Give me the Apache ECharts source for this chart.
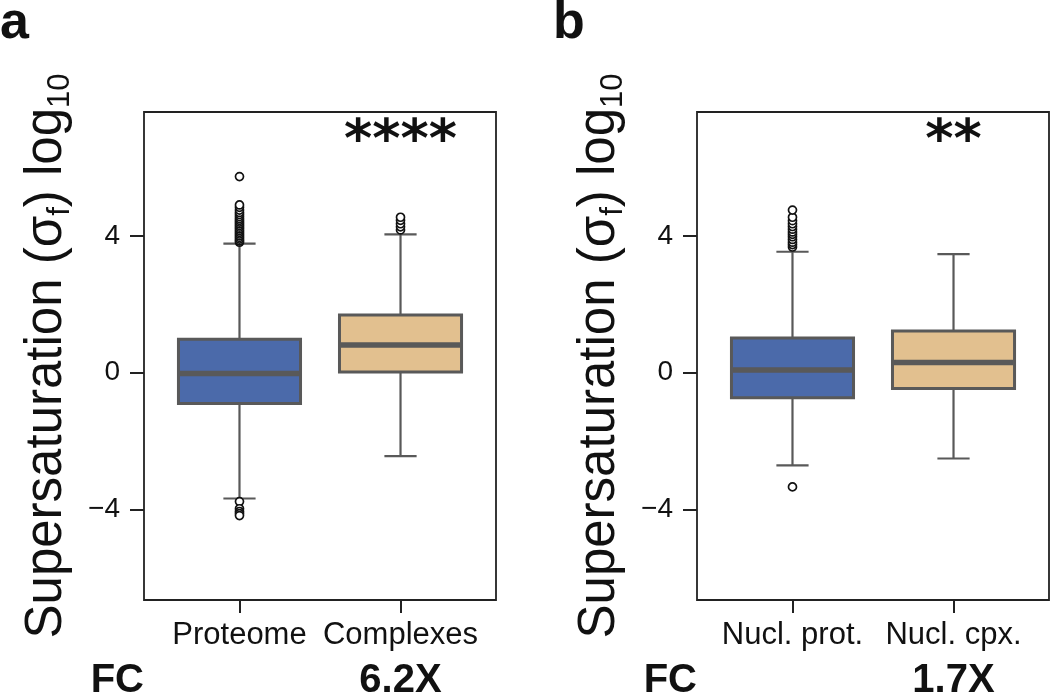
<!DOCTYPE html>
<html><head><meta charset="utf-8">
<script src="https://cdn.jsdelivr.net/npm/echarts@6/dist/echarts.min.js"></script>
<style>html,body{margin:0;padding:0;background:#fff}#c{width:1050px;height:697px}</style>
</head><body><div id="c"></div>
<script>
// ---- data ----
const panelLabels = ['a', 'b'];
const categoriesA = ['Proteome', 'Complexes'];
const categoriesB = ['Nucl. prot.', 'Nucl. cpx.'];
// each box: [lower whisker, Q1, median, Q3, upper whisker]
const boxesA = [[-3.68, -0.90, -0.02, 0.98, 3.78], [-2.44, 0.02, 0.81, 1.69, 4.05]];
const boxesB = [[-2.71, -0.73, 0.08, 1.02, 3.54], [-2.51, -0.46, 0.30, 1.22, 3.47]];
const outliersA = [
  [3.82, 3.86, 3.91, 3.96, 4.01, 4.06, 4.11, 4.16, 4.21, 4.26, 4.31, 4.36, 4.41, 4.46, 4.51, 4.57, 4.63, 4.69, 4.76, 4.84, 4.91, 5.74, -3.77, -3.98, -4.06, -4.12, -4.18],
  [4.18, 4.27, 4.36, 4.46, 4.55]
];
const outliersB = [
  [3.68, 3.75, 3.82, 3.90, 3.98, 4.05, 4.12, 4.20, 4.28, 4.36, 4.45, 4.55, 4.76, -3.34],
  []
];
const significance = ['****', '**'];
const foldChanges = ['6.2X', '1.7X'];
const yTicks = [-4, 0, 4];
const xTicks = [0, 1];

// ---- styling ----
const FONT = "'Liberation Sans', Arial, Helvetica, sans-serif";
const fills = ['#4b6aaa', '#e2c08f'];
const edge = '#595959';
const frame = '#222';
const grids = [
  { left: 144, top: 112, width: 352, height: 488 },
  { left: 697, top: 112, width: 352, height: 488 }
];
const Y_MIN = -6.65, Y_MAX = 7.63, X_MIN = -0.593, X_MAX = 1.593;
const BOX_HALF = 0.379, CAP_HALF = 0.1;

const panels = [
  { cats: categoriesA, boxes: boxesA, outliers: outliersA },
  { cats: categoriesB, boxes: boxesB, outliers: outliersB }
];

function renderBox(params, api) {
  const x = api.value(0);
  const lo = api.value(1), q1 = api.value(2), med = api.value(3), q3 = api.value(4), hi = api.value(5);
  const tl = api.coord([x - BOX_HALF, q3]);
  const br = api.coord([x + BOX_HALF, q1]);
  const mL = api.coord([x - BOX_HALF, med]);
  const mR = api.coord([x + BOX_HALF, med]);
  const pLo = api.coord([x, lo]);
  const pHi = api.coord([x, hi]);
  const cL = api.coord([x - CAP_HALF, lo])[0];
  const cR = api.coord([x + CAP_HALF, lo])[0];
  const wStyle = { stroke: edge, lineWidth: 2.2 };
  return {
    type: 'group',
    children: [
      { type: 'line', shape: { x1: pHi[0], y1: pHi[1], x2: pHi[0], y2: tl[1] }, style: wStyle },
      { type: 'line', shape: { x1: pLo[0], y1: br[1], x2: pLo[0], y2: pLo[1] }, style: wStyle },
      { type: 'line', shape: { x1: cL, y1: pHi[1], x2: cR, y2: pHi[1] }, style: wStyle },
      { type: 'line', shape: { x1: cL, y1: pLo[1], x2: cR, y2: pLo[1] }, style: wStyle },
      { type: 'rect', shape: { x: tl[0], y: tl[1], width: br[0] - tl[0], height: br[1] - tl[1] },
        style: { fill: fills[params.dataIndex], stroke: edge, lineWidth: 3 } },
      { type: 'line', shape: { x1: mL[0] + 1.5, y1: mL[1], x2: mR[0] - 1.5, y2: mR[1] },
        style: { stroke: edge, lineWidth: 5.5 } }
    ]
  };
}

const option = {
  animation: false,
  backgroundColor: '#fff',
  textStyle: { fontFamily: FONT },
  grid: grids.map(g => Object.assign({ show: true, borderColor: frame, borderWidth: 1.8, backgroundColor: 'transparent' }, g)),
  xAxis: panels.map((p, i) => ({
    type: 'value', gridIndex: i, min: X_MIN, max: X_MAX, position: 'bottom',
    splitLine: { show: false },
    axisLine: { show: false, onZero: false },
    axisTick: { show: true, customValues: xTicks, length: 13, lineStyle: { color: frame, width: 2 } },
    axisLabel: { customValues: xTicks, margin: 20, color: '#111', fontSize: 31, fontFamily: FONT,
      formatter: v => p.cats[Math.round(v)] }
  })),
  yAxis: panels.map((p, i) => ({
    type: 'value', gridIndex: i, min: Y_MIN, max: Y_MAX, position: 'left',
    splitLine: { show: false },
    axisLine: { show: false, onZero: false },
    axisTick: { show: true, customValues: yTicks, length: 14, lineStyle: { color: frame, width: 2 } },
    axisLabel: { customValues: yTicks, margin: 24, color: '#111', fontSize: 28, fontFamily: FONT,
      formatter: v => (v < 0 ? '\u2212' + Math.abs(v) : String(v)) },
    name: '{m|Supersaturation (\u03c3}{s|f}{m|) log}{s|10}',
    nameLocation: 'middle', nameGap: 68, nameRotate: 90,
    nameTextStyle: {
      rich: {
        m: { fontSize: 51, fontFamily: FONT, color: '#111', lineHeight: 58 },
        s: { fontSize: 31, fontFamily: FONT, color: '#111', lineHeight: 30, verticalAlign: 'bottom' }
      }
    }
  })),
  series: []
};

panels.forEach((p, i) => {
  option.series.push({
    type: 'custom', xAxisIndex: i, yAxisIndex: i,
    renderItem: renderBox,
    data: p.boxes.map((b, k) => [k].concat(b)),
    z: 2
  });
  const pts = [];
  p.outliers.forEach((arr, k) => arr.forEach(v => pts.push([k, v])));
  option.series.push({
    type: 'scatter', xAxisIndex: i, yAxisIndex: i,
    data: pts, symbol: 'circle', symbolSize: 8,
    itemStyle: { color: '#fff', borderColor: '#111', borderWidth: 1.7, opacity: 1 },
    z: 3
  });
});

const chart = echarts.init(document.getElementById('c'), null, { renderer: 'canvas' });
chart.setOption(option);

// annotations positioned through the axes
const graphics = [];
panels.forEach((p, i) => {
  const c1 = chart.convertToPixel({ gridIndex: i }, [1, 0]);
  graphics.push({ type: 'text',
    style: { text: panelLabels[i], x: i === 0 ? 0 : 553, y: 24, font: 'bold 52px ' + FONT, fill: '#111', verticalAlign: 'middle', align: 'left' } });
  graphics.push({ type: 'text',
    style: { text: significance[i], x: c1[0], y: 143, font: 'bold 54px "DejaVu Sans"', fill: '#111', align: 'center', verticalAlign: 'middle' } });
  graphics.push({ type: 'text',
    style: { text: 'FC', x: grids[i].left, y: 681, font: 'bold 40px ' + FONT, fill: '#111', align: 'right', verticalAlign: 'middle' } });
  graphics.push({ type: 'text',
    style: { text: foldChanges[i], x: c1[0], y: 681, font: 'bold 40px ' + FONT, fill: '#111', align: 'center', verticalAlign: 'middle' } });
});
chart.setOption({ graphic: graphics });
</script>
</body></html>
